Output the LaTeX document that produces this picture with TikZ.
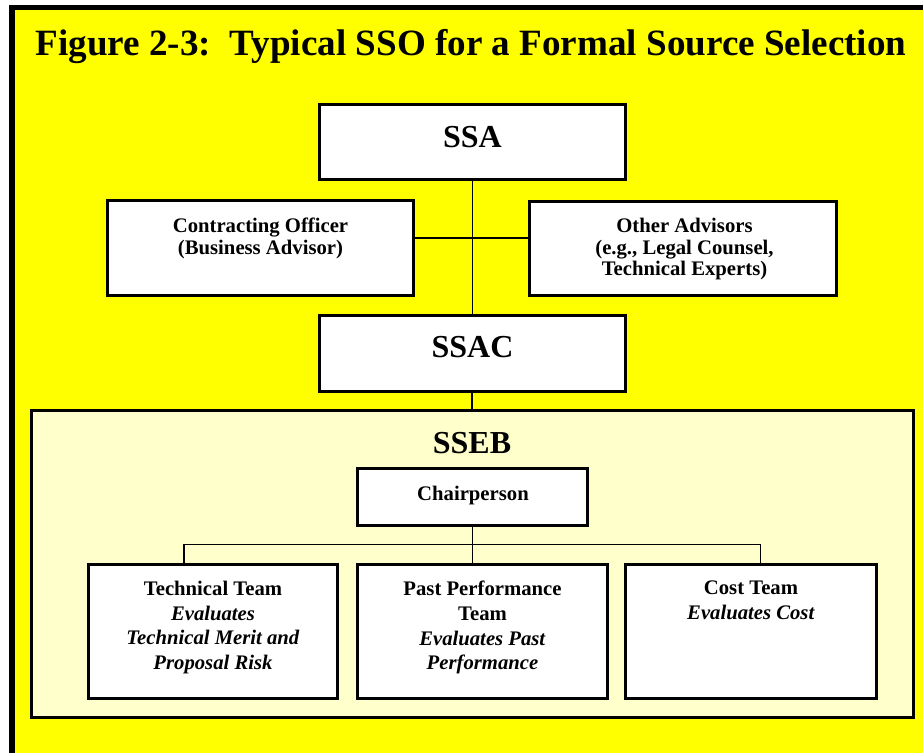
\documentclass[tikz,border=0pt]{standalone}
\usepackage{fontspec}
\setmainfont{Liberation Serif}
\definecolor{yel}{HTML}{FFFF00}
\definecolor{lightyel}{HTML}{FFFFCC}
\begin{document}
\begin{tikzpicture}[x=1pt,y=-1pt,
  box/.style={draw, line width=3pt, fill=white, inner sep=0pt, line join=miter},
  panel/.style={draw, line width=3pt, fill=lightyel, inner sep=0pt, line join=miter},
  conn/.style={line width=1.4pt},
  upper/.style={font=\bfseries\fontsize{20.7}{21.6}\selectfont, align=center, inner sep=0pt, anchor=north},
  lower/.style={font=\bfseries\fontsize{20.7}{24.7}\selectfont, align=center, inner sep=0pt, anchor=north},
  big/.style={font=\bfseries\fontsize{32}{36}\selectfont, inner sep=0pt, anchor=base},
  titlefont/.style={font=\bfseries\fontsize{37.1}{40}\selectfont, inner sep=0pt, anchor=base west}]
\useasboundingbox (0,0) rectangle (923,753);
\fill[white] (0,0) rectangle (923,753);
\fill[yel] (12,7.3) rectangle (923,753);
\draw[line width=5.5pt, line join=miter] (923,7.3) -- (12,7.3) -- (12,753);

\node[titlefont] (title) at (35.5,55) {Figure 2-3:\ \ Typical SSO for a Formal Source Selection};

% boxes
\node[box, minimum width=306.5pt, minimum height=74.5pt] (ssa) at (472.25,141.75) {};
\node[box, minimum width=305.8pt, minimum height=95pt] (co) at (260.4,247.5) {};
\node[box, minimum width=306.7pt, minimum height=94pt] (oa) at (683.3,248) {};
\node[box, minimum width=306pt, minimum height=76pt] (ssac) at (472,353) {};
\node[panel, minimum width=882.3pt, minimum height=306.7pt] (sseb) at (472.2,564.3) {};
\node[box, minimum width=230.4pt, minimum height=57.4pt] (chair) at (472.5,497) {};
\node[box, minimum width=249.4pt, minimum height=133.7pt] (tech) at (213,631.2) {};
\node[box, minimum width=250pt, minimum height=133.7pt] (past) at (482.7,631.2) {};
\node[box, minimum width=251pt, minimum height=133.7pt] (cost) at (751.2,631.2) {};

% connectors
\coordinate (midline) at (472,238);
\coordinate (busL) at (184,544.5);
\coordinate (busR) at (760.5,544.5);
\draw[conn] (ssa.south) -- (ssa.south |- ssac.north);
\draw[conn] (co.east |- midline) -- (oa.west |- midline);
\draw[conn] (ssac.south) -- (ssac.south |- sseb.north);
\draw[conn] (chair.south) -- (chair.south |- past.north);
\draw[conn] (busL |- tech.north) -- (busL) -- (busR) -- (busR |- cost.north);

% texts
\node[big] (ssaT) at (472.5,147) {SSA};
\node[big] (ssacT) at (472.5,357) {SSAC};
\node[big] (ssebT) at (472,453) {SSEB};
\node[upper] (coT) at (260.5,218) {Contracting Officer\\(Business Advisor)};
\node[upper] (oaT) at (684.5,218) {Other Advisors\\(e.g., Legal Counsel,\\Technical Experts)};
\node[upper, anchor=base] (chairT) at (473,500) {Chairperson};
\node[lower] (techT) at (213,581) {Technical Team\\\textit{Evaluates}\\\textit{Technical Merit and}\\\textit{Proposal Risk}};
\node[lower] (pastT) at (482.5,581) {Past Performance\\Team\\\textit{Evaluates Past}\\\textit{Performance}};
\node[lower] (costT) at (751,581) {Cost Team\\\textit{Evaluates Cost}};
\end{tikzpicture}
\end{document}
